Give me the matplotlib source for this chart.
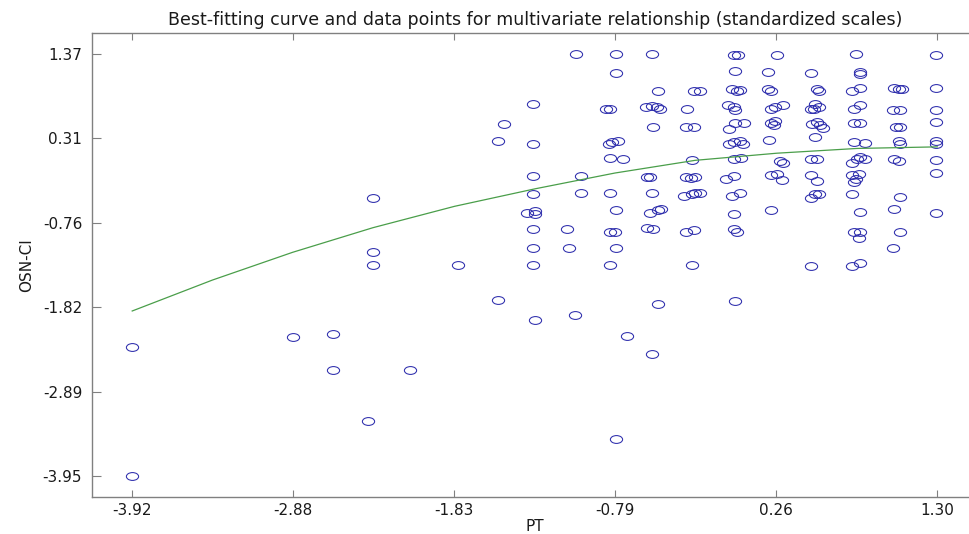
import matplotlib
matplotlib.use("Agg")
import matplotlib.pyplot as plt
from matplotlib.path import Path
from matplotlib.transforms import Affine2D

# standardized scores, grouped roughly by PT column
pt_vals = [
    # sparse left part
    -3.92, -3.92, -2.88, -2.62, -2.62, -2.39, -2.12, -2.36, -2.36, -2.36, -1.81, -1.55, -1.51, -1.55,
    # ~ -1.32
    -1.32, -1.32, -1.32, -1.32, -1.36, -1.31, -1.31, -1.32, -1.32, -1.32, -1.31,
    # ~ -1.05
    -1.04, -1.01, -1.01, -1.10, -1.09, -1.05,
    # ~ -0.79
    -0.78, -0.78, -0.85, -0.82, -0.83, -0.81, -0.77, -0.82, -0.74, -0.82, -0.78, -0.82, -0.79, -0.78,
    -0.82, -0.71, -0.78,
    # ~ -0.55
    -0.55, -0.51, -0.59, -0.55, -0.52, -0.50, -0.54, -0.58, -0.56, -0.55, -0.56, -0.51, -0.49, -0.58,
    -0.54, -0.51, -0.55,
    # ~ -0.29
    -0.28, -0.24, -0.32, -0.33, -0.28, -0.29, -0.33, -0.30, -0.27, -0.34, -0.29, -0.27, -0.24, -0.33,
    -0.28, -0.29,
    # ~ 0.00
    -0.02, 0.01, -0.01, -0.03, 0.00, 0.02, -0.06, -0.02, -0.01, -0.05, -0.01, 0.05, -0.05, -0.02,
    0.02, 0.04, -0.02, 0.03, -0.07, -0.02, -0.03, 0.02, -0.02, -0.02, 0.00, -0.01,
    # ~ 0.26
    0.26, 0.20, 0.20, 0.22, 0.22, 0.25, 0.30, 0.22, 0.24, 0.25, 0.21, 0.28, 0.30, 0.22, 0.26, 0.29, 0.22,
    # ~ 0.50
    0.48, 0.52, 0.53, 0.48, 0.51, 0.50, 0.53, 0.49, 0.52, 0.54, 0.56, 0.51, 0.48, 0.52, 0.48, 0.52,
    0.48, 0.51, 0.53, 0.48,
    # ~ 0.78
    0.77, 0.80, 0.80, 0.75, 0.80, 0.76, 0.80, 0.76, 0.80, 0.76, 0.83, 0.75, 0.78, 0.80, 0.83, 0.75,
    0.77, 0.79, 0.76, 0.75, 0.80, 0.76, 0.80, 0.79, 0.75, 0.80,
    # ~ 1.04
    1.02, 1.05, 1.07, 1.01, 1.06, 1.03, 1.06, 1.05, 1.06, 1.02, 1.05, 1.06, 1.02, 1.06, 1.01,
    # 1.30
    1.29, 1.29, 1.29, 1.29, 1.29, 1.29, 1.29, 1.29, 1.29,
]
osn_vals = [
    -2.32, -3.95, -2.20, -2.16, -2.62, -3.26, -2.62, -0.45, -1.12, -1.29, -1.29, 0.28, 0.49, -1.73,
    0.74, 0.24, -0.17, -0.40, -0.63, -0.61, -0.65, -0.83, -1.07, -1.29, -1.99,
    1.37, -0.17, -0.38, -0.83, -1.08, -1.92,
    1.37, 1.13, 0.68, 0.68, 0.24, 0.26, 0.28, 0.06, 0.05, -0.38, -0.60, -0.87, -0.87, -1.07,
    -1.29, -2.19, -3.49,
    1.37, 0.90, 0.70, 0.72, 0.70, 0.68, 0.45, -0.18, -0.18, -0.38, -0.63, -0.60, -0.59, -0.82,
    -0.83, -1.78, -2.41,
    0.91, 0.91, 0.68, 0.45, 0.45, 0.04, -0.18, -0.19, -0.18, -0.42, -0.40, -0.38, -0.38, -0.87,
    -0.85, -1.29,
    1.36, 1.36, 1.16, 0.93, 0.91, 0.92, 0.73, 0.70, 0.67, 0.43, 0.50, 0.50, 0.24, 0.26,
    0.28, 0.24, 0.05, 0.06, -0.20, -0.17, -0.42, -0.38, -0.65, -0.84, -0.87, -1.75,
    1.36, 1.15, 0.93, 0.91, 0.68, 0.70, 0.73, 0.50, 0.48, 0.53, 0.29, 0.02, 0.00, -0.16, -0.14, -0.22, -0.60,
    1.13, 0.93, 0.91, 0.68, 0.74, 0.68, 0.70, 0.49, 0.51, 0.47, 0.44, 0.32, 0.05, 0.05, -0.16, -0.23,
    -0.44, -0.40, -0.39, -1.30,
    1.37, 1.15, 1.12, 0.91, 0.94, 0.68, 0.73, 0.50, 0.50, 0.26, 0.25, 0.00, 0.05, 0.07, 0.05, -0.16,
    -0.21, -0.14, -0.24, -0.39, -0.62, -0.87, -0.87, -0.95, -1.30, -1.27,
    0.94, 0.93, 0.93, 0.67, 0.67, 0.45, 0.45, 0.28, 0.23, 0.05, 0.02, -0.43, -0.59, -0.87, -1.07,
    1.36, 0.94, 0.67, 0.51, 0.28, 0.23, 0.03, -0.13, -0.64,
]

# best-fitting curve at a few PT positions
curve_pt = [-3.92, -3.40, -2.88, -2.36, -1.83, -1.31, -0.79, -0.27, 0.26, 0.78, 1.30]
curve_osn = [-1.87, -1.48, -1.13, -0.82, -0.55, -0.33, -0.13, 0.03, 0.12, 0.18, 0.20]

x_ticks = [-3.92, -2.876, -1.832, -0.788, 0.256, 1.30]
x_labels = ["-3.92", "-2.88", "-1.83", "-0.79", "0.26", "1.30"]
y_ticks = [-3.95, -2.886, -1.822, -0.758, 0.306, 1.37]
y_labels = ["-3.95", "-2.89", "-1.82", "-0.76", "0.31", "1.37"]

# the source picture is stretched sideways, so the circles are flat ellipses
ellipse = Path.unit_circle().transformed(Affine2D().scale(1.0, 0.64))

fig = plt.figure(figsize=(9.69, 5.34), dpi=100)
ax = fig.add_axes([0.0949, 0.0693, 0.9139, 0.8689])

ax.plot(pt_vals, osn_vals, linestyle="none", marker=ellipse, markersize=8.8,
        markerfacecolor="none", markeredgecolor="#2c2cac", markeredgewidth=0.75)
ax.plot(curve_pt, curve_osn, color="#4a9e4a", linewidth=0.9)

ax.set_xlim(-4.181, 1.561)
ax.set_ylim(-4.216, 1.636)
ax.set_xticks(x_ticks)
ax.set_xticklabels(x_labels)
ax.set_yticks(y_ticks)
ax.set_yticklabels(y_labels)

ax.tick_params(axis="both", direction="in", top=True, right=True,
               colors="#808080", labelcolor="#1a1a1a", labelsize=11, width=0.8)
ax.tick_params(axis="x", length=5, pad=4)
ax.tick_params(axis="y", length=6.5, pad=7)
for side in ax.spines.values():
    side.set_color("#808080")
    side.set_linewidth(1.0)

ax.set_title("Best-fitting curve and data points for multivariate relationship (standardized scales)",
             fontsize=12.5, color="#1a1a1a", pad=6)
ax.set_xlabel("PT", fontsize=11, color="#1a1a1a", labelpad=1)
ax.set_ylabel("OSN-CI", fontsize=11, color="#1a1a1a", labelpad=6)

fig.savefig("out.png", dpi=100)
plt.close(fig)
